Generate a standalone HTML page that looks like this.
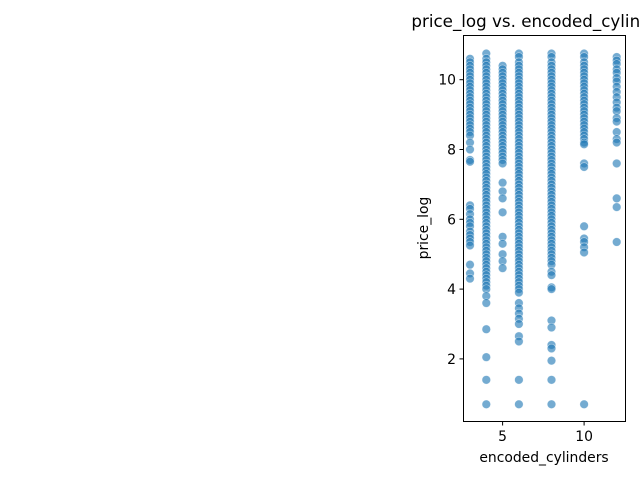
<!DOCTYPE html>
<html><head><meta charset="utf-8"><style>
html,body{margin:0;padding:0;background:#fff;width:640px;height:480px;overflow:hidden}
svg text{font-family:"DejaVu Sans","Liberation Sans",sans-serif;fill:#000}
</style></head><body>
<svg id="chart" width="640" height="480" xmlns="http://www.w3.org/2000/svg">
<text x="544" y="27" font-size="16.7" text-anchor="middle">price_log vs. encoded_cylinders</text>
<g id="points"></g>
<rect x="463.5" y="35.5" width="162" height="386" fill="none" stroke="#000" stroke-width="1"/>
<g id="axes"></g>
<text x="544" y="462" font-size="13.9" text-anchor="middle">encoded_cylinders</text>
<text transform="translate(428,228) rotate(-90)" font-size="13.9" text-anchor="middle">price_log</text>
</svg>
<script>
const cylinders = [3,4,5,6,8,10,12];
const col3 = [10.6,10.5,10.4,10.3,10.2,10.1,10.0,9.9,9.8,9.7,9.6,9.5,9.4,9.3,9.2,9.1,9.0,8.9,8.8,8.7,8.6,8.5,8.4,8.2,8.0,7.7,7.65,6.4,6.3,6.15,6.0,5.9,5.8,5.65,5.55,5.45,5.35,5.25,4.7,4.45,4.3];
const col4 = [10.75,10.6,10.5,10.4,10.3,10.2,10.1,10.0,9.9,9.8,9.7,9.6,9.5,9.4,9.3,9.2,9.1,9.0,8.9,8.8,8.7,8.6,8.5,8.4,8.3,8.2,8.1,8.0,7.9,7.8,7.7,7.6,7.5,7.4,7.3,7.2,7.1,7.0,6.9,6.8,6.7,6.6,6.5,6.4,6.3,6.2,6.1,6.0,5.9,5.8,5.7,5.6,5.5,5.4,5.3,5.2,5.1,5.0,4.9,4.8,4.7,4.6,4.5,4.4,4.3,4.2,4.1,4.0,3.8,3.6,2.85,2.05,1.4,0.7];
const col5 = [10.4,10.3,10.2,10.1,10.0,9.9,9.8,9.7,9.6,9.5,9.4,9.3,9.2,9.1,9.0,8.9,8.8,8.7,8.6,8.5,8.4,8.3,8.2,8.1,8.0,7.9,7.8,7.7,7.6,7.05,6.8,6.6,6.2,5.5,5.3,5.0,4.8,4.6];
const col6 = [10.75,10.65,10.5,10.4,10.3,10.2,10.1,10.0,9.9,9.8,9.7,9.6,9.5,9.4,9.3,9.2,9.1,9.0,8.9,8.8,8.7,8.6,8.5,8.4,8.3,8.2,8.1,8.0,7.9,7.8,7.7,7.6,7.5,7.4,7.3,7.2,7.1,7.0,6.9,6.8,6.7,6.6,6.5,6.4,6.3,6.2,6.1,6.0,5.9,5.8,5.7,5.6,5.5,5.4,5.3,5.2,5.1,5.0,4.9,4.8,4.7,4.6,4.5,4.4,4.3,4.2,4.1,4.0,3.9,3.6,3.45,3.3,3.15,3.0,2.65,2.5,1.4,0.7];
const col8 = [10.75,10.65,10.5,10.4,10.3,10.2,10.1,10.0,9.9,9.8,9.7,9.6,9.5,9.4,9.3,9.2,9.1,9.0,8.9,8.8,8.7,8.6,8.5,8.4,8.3,8.2,8.1,8.0,7.9,7.8,7.7,7.6,7.5,7.4,7.3,7.2,7.1,7.0,6.9,6.8,6.7,6.6,6.5,6.4,6.3,6.2,6.1,6.0,5.9,5.8,5.7,5.6,5.5,5.4,5.3,5.2,5.1,5.0,4.9,4.8,4.7,4.5,4.4,4.05,4.0,3.1,2.9,2.4,2.3,1.95,1.4,0.7];
const col10 = [10.75,10.65,10.5,10.4,10.3,10.2,10.1,10.0,9.9,9.8,9.7,9.6,9.5,9.4,9.3,9.2,9.1,9.0,8.9,8.8,8.7,8.6,8.5,8.4,8.3,8.2,8.15,7.6,7.5,5.8,5.45,5.35,5.2,5.05,0.7];
const col12 = [10.65,10.55,10.45,10.3,10.2,10.05,9.95,9.8,9.65,9.5,9.35,9.2,9.1,8.9,8.8,8.5,8.3,8.2,7.6,6.6,6.35,5.35];
const columns = [col3,col4,col5,col6,col8,col10,col12];
const xTicks = [5,10];
const yTicks = [2,4,6,8,10];

const NS = "http://www.w3.org/2000/svg";
function xScale(v){ return 470 + (v-3)*16.3; }
function yScale(v){ return 79.7 + (10-v)*34.9; }

const pts = document.getElementById('points');
columns.forEach((vals,i)=>{
  vals.forEach(v=>{
    const c = document.createElementNS(NS,'circle');
    c.setAttribute('cx', xScale(cylinders[i]));
    c.setAttribute('cy', yScale(v));
    c.setAttribute('r', 4.3);
    c.setAttribute('fill', 'rgba(31,119,180,0.62)');
    c.setAttribute('stroke', 'rgba(255,255,255,0.6)');
    c.setAttribute('stroke-width', '0.6');
    
    
    pts.appendChild(c);
  });
});

const axes = document.getElementById('axes');
xTicks.forEach(t=>{
  const x = xScale(t);
  const l = document.createElementNS(NS,'line');
  l.setAttribute('x1',x); l.setAttribute('x2',x);
  l.setAttribute('y1',421.5); l.setAttribute('y2',425.5);
  l.setAttribute('stroke','#000');
  
  
  axes.appendChild(l);
  const tx = document.createElementNS(NS,'text');
  tx.setAttribute('x',x); tx.setAttribute('y',441);
  tx.setAttribute('font-size','13.9'); tx.setAttribute('text-anchor','middle');
  tx.textContent = t;
  
  
  axes.appendChild(tx);
});
yTicks.forEach(t=>{
  const y = yScale(t);
  const l = document.createElementNS(NS,'line');
  l.setAttribute('x1',459.5); l.setAttribute('x2',463.5);
  l.setAttribute('y1',y); l.setAttribute('y2',y);
  l.setAttribute('stroke','#000');
  
  
  axes.appendChild(l);
  const tx = document.createElementNS(NS,'text');
  tx.setAttribute('x',456); tx.setAttribute('y',y+5);
  tx.setAttribute('font-size','13.9'); tx.setAttribute('text-anchor','end');
  tx.textContent = t;
  
  
  axes.appendChild(tx);
});
</script>
</body></html>
